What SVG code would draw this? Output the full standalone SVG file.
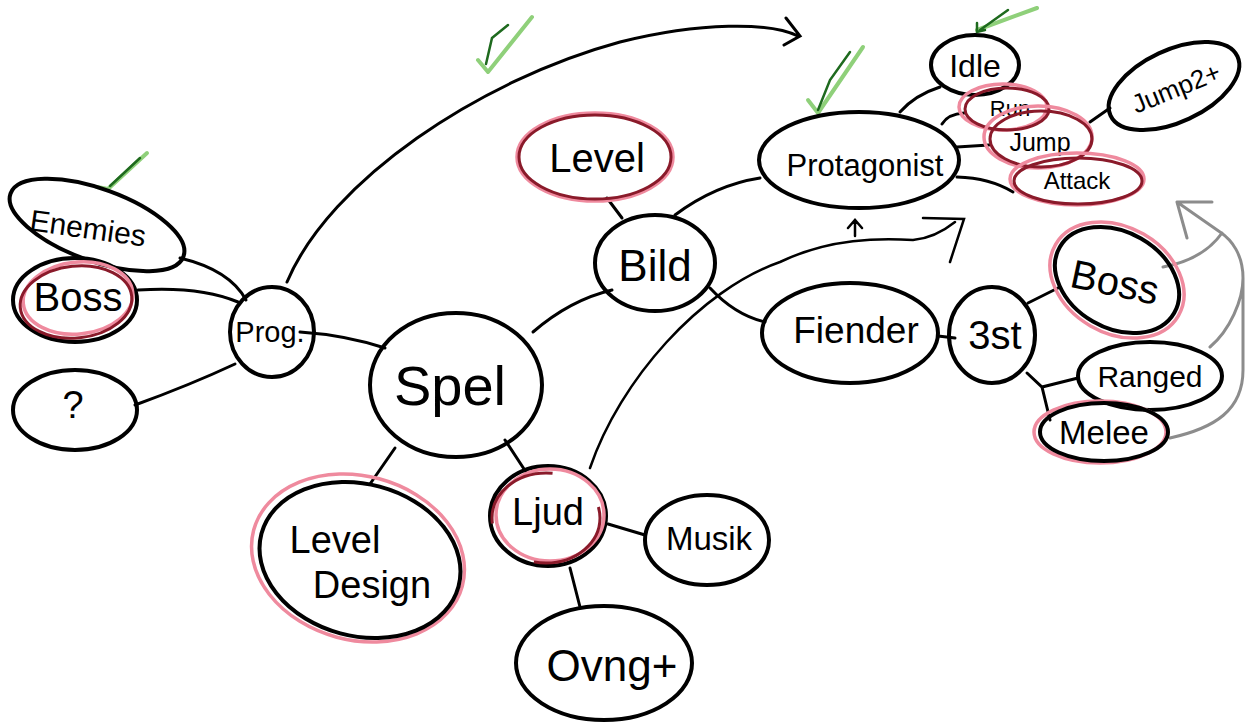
<svg xmlns="http://www.w3.org/2000/svg" width="1256" height="727" viewBox="0 0 1256 727">
<style>
.n{fill:none;stroke:#000;stroke-width:4;}
.hp{fill:none;stroke:#ef8a9e;stroke-width:3.5;}
.hd{fill:none;stroke:#8a1a2a;stroke-width:3;}
.c{fill:none;stroke:#000;stroke-width:3;stroke-linecap:round;}
.thin{fill:none;stroke:#000;stroke-width:2.5;stroke-linecap:round;}
.g{fill:none;stroke:#8c8c8c;stroke-width:3;stroke-linecap:round;}
.ck{fill:none;stroke:#8fd07a;stroke-width:4;stroke-linecap:round;stroke-linejoin:round;}
.ckd{fill:none;stroke:#1e6a1e;stroke-width:2.5;stroke-linecap:round;}
text{font-family:"Liberation Sans",Arial,sans-serif;fill:#000;text-anchor:middle;dominant-baseline:central;}
</style>
<rect width="1256" height="727" fill="#fff"/>
<g id="connectors">
<path class="c" d="M300,332 Q345,335 385,348"/>
<path class="c" d="M533,332 Q570,300 612,290"/>
<path class="c" d="M395,448 L370,484"/>
<path class="c" d="M505,440 L526,472"/>
<path class="c" d="M622,218 L607,198"/>
<path class="c" d="M675,215 Q715,185 760,178"/>
<path class="c" d="M710,288 Q735,315 765,322"/>
<path class="c" d="M608,524 L645,535"/>
<path class="c" d="M570,568 L580,607"/>
<path class="c" d="M180,258 Q230,270 246,300"/>
<path class="c" d="M138,290 Q200,286 238,302"/>
<path class="c" d="M135,405 Q190,385 235,364"/>
<path class="c" d="M287,282 C330,180 480,80 620,42 C700,22 770,22 798,36 M786,18 L800,36 L784,45"/>
<path class="thin" d="M590,468 C620,380 700,290 780,262 C830,238 880,238 913,240 Q935,238 955,222 M923,218 L964,219 L950,262 M855,236 L855,220 M848,228 L855,220 L862,228"/>
<path class="c" d="M900,112 Q915,95 940,87"/>
<path class="c" d="M942,124 Q948,114 964,113"/>
<path class="c" d="M957,147 L989,145"/>
<path class="c" d="M957,177 Q990,178 1013,192"/>
<path class="c" d="M1090,122 L1110,108"/>
<path class="c" d="M938,336 L955,338"/>
<path class="c" d="M1028,303 L1060,287"/>
<path class="c" d="M1027,373 L1042,387 L1078,378 M1042,387 L1050,420"/>
<path class="g" d="M1170,438 C1215,428 1243,410 1243,370 L1243,278 C1243,255 1232,240 1220,232 L1177,202 M1177,202 L1212,202 M1177,202 L1187,238 M1210,347 C1230,330 1243,300 1243,278 M1163,267 C1190,262 1210,250 1222,233"/>
</g>
<g id="checks">
<path class="ck" d="M97,187 L108,189 L147,153"/>
<path class="ckd" d="M110,186 L140,158"/>
<path class="ck" d="M478,60 L488,72 L532,17"/>
<path class="ckd" d="M486,64 L492,38 L508,25"/>
<path class="ck" d="M808,100 L818,113 L863,47"/>
<path class="ckd" d="M818,110 L830,80 L850,52"/>
<path class="ck" d="M977,30 L1037,8"/>
<path class="ckd" d="M977,23 L977,32 L985,30 M980,30 L1008,10"/>
</g>
<g id="spel"><ellipse class="n" cx="456" cy="385" rx="86" ry="72"/><text x="450" y="385" font-size="56">Spel</text></g>
<g id="bild"><ellipse class="n" cx="655" cy="263" rx="60" ry="48"/><text x="655" y="265" font-size="44">Bild</text></g>
<g id="level"><ellipse class="hp" cx="595" cy="157" rx="78" ry="44"/><ellipse class="hd" cx="595" cy="157" rx="76" ry="42"/><text x="597" y="158" font-size="40">Level</text></g>
<g id="prog"><ellipse class="n" cx="272" cy="332" rx="42" ry="45"/><text x="270" y="332" font-size="29">Prog.</text></g>
<g id="enemies"><ellipse class="n" cx="97" cy="225" rx="92" ry="36" transform="rotate(20 97 225)"/><text x="88" y="228" font-size="30" transform="rotate(8 88 228)">Enemies</text></g>
<g id="boss-left"><ellipse class="n" cx="75" cy="300" rx="62" ry="42"/><ellipse class="hp" cx="78" cy="298" rx="55" ry="36" transform="rotate(-6 78 298)"/><ellipse class="hd" cx="76" cy="302" rx="56" ry="36" transform="rotate(-6 76 302)"/><text x="78" y="297" font-size="40">Boss</text></g>
<g id="unknown"><ellipse class="n" cx="75" cy="410" rx="62" ry="40"/><text x="73" y="405" font-size="38">?</text></g>
<g id="level-design"><ellipse class="hp" cx="358" cy="558" rx="108" ry="82" transform="rotate(15 358 558)"/><ellipse class="n" cx="360" cy="560" rx="102" ry="76" transform="rotate(15 360 560)"/><text x="335" y="540" font-size="38">Level</text><text x="372" y="585" font-size="38">Design</text></g>
<g id="ljud"><ellipse class="n" cx="548" cy="516" rx="58" ry="50"/><ellipse class="hp" cx="550" cy="515" rx="54" ry="46"/><ellipse class="hd" cx="546" cy="518" rx="54" ry="45" stroke-dasharray="90 60"/><text x="548" y="512" font-size="38">Ljud</text></g>
<g id="musik"><ellipse class="n" cx="707" cy="540" rx="62" ry="45"/><text x="709" y="538" font-size="33">Musik</text></g>
<g id="ovning"><ellipse class="n" cx="604" cy="663" rx="88" ry="57"/><text x="612" y="665" font-size="44">Ovng+</text></g>
<g id="fiender"><ellipse class="n" cx="850" cy="333" rx="88" ry="50"/><text x="856" y="330" font-size="37">Fiender</text></g>
<g id="tre-st"><ellipse class="n" cx="992" cy="335" rx="43" ry="48"/><text x="995" y="335" font-size="40">3st</text></g>
<g id="boss-right"><ellipse class="hp" cx="1117" cy="280" rx="71" ry="53" transform="rotate(30 1117 280)"/><ellipse class="n" cx="1117" cy="280" rx="66" ry="48" transform="rotate(30 1117 280)"/><text x="1115" y="282" font-size="40" transform="rotate(12 1115 282)">Boss</text></g>
<g id="ranged"><ellipse class="n" cx="1150" cy="376" rx="72" ry="34"/><text x="1150" y="376" font-size="30">Ranged</text></g>
<g id="melee"><ellipse class="hp" cx="1100" cy="432" rx="66" ry="31"/><ellipse class="n" cx="1104" cy="432" rx="64" ry="29" stroke="#3a0a10"/><text x="1104" y="432" font-size="33">Melee</text></g>
<g id="protagonist"><ellipse class="n" cx="859" cy="160" rx="100" ry="48"/><text x="865" y="165" font-size="31">Protagonist</text></g>
<g id="idle"><ellipse class="n" cx="975" cy="65" rx="44" ry="30"/><text x="975" y="66" font-size="32">Idle</text></g>
<g id="run"><ellipse class="hp" cx="1003" cy="107" rx="44" ry="23"/><ellipse class="hd" cx="1007" cy="109" rx="42" ry="21"/><text x="1010" y="108" font-size="22">Run</text></g>
<g id="jump"><ellipse class="hp" cx="1038" cy="137" rx="54" ry="31"/><ellipse class="hd" cx="1041" cy="139" rx="51" ry="28"/><text x="1040" y="142" font-size="25">Jump</text></g>
<g id="attack"><ellipse class="hp" cx="1077" cy="179" rx="67" ry="26"/><ellipse class="hd" cx="1078" cy="181" rx="64" ry="23"/><text x="1077" y="180" font-size="24">Attack</text></g>
<g id="jump2"><ellipse class="n" cx="1174" cy="86" rx="70" ry="36" transform="rotate(-25 1174 86)"/><text x="1176" y="88" font-size="26" transform="rotate(-22 1176 88)">Jump2+</text></g>
</svg>
